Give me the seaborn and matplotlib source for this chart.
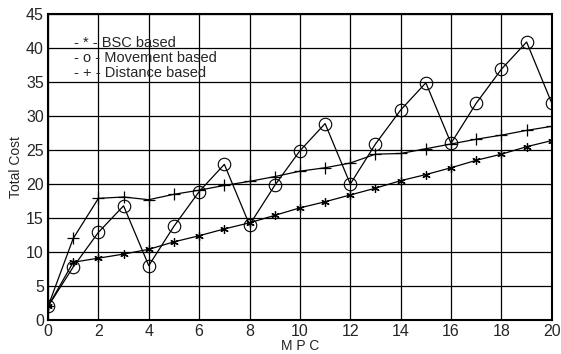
import matplotlib
matplotlib.use("Agg")
import matplotlib.pyplot as plt
import seaborn as sns
import pandas as pd

mpc = list(range(21))
bsc = [2, 8.5, 9.1, 9.7, 10.4, 11.5, 12.4, 13.4, 14.3, 15.4, 16.5, 17.4, 18.4, 19.4, 20.5, 21.4, 22.4, 23.5, 24.4, 25.5, 26.4]
movement = [2, 7.8, 12.9, 16.8, 8, 13.8, 18.9, 22.9, 14, 19.8, 24.9, 28.9, 20, 25.9, 30.9, 34.9, 26, 31.9, 36.9, 40.9, 31.9]
distance = [2, 12, 17.9, 18.1, 17.7, 18.5, 19.1, 19.8, 20.4, 21.1, 21.9, 22.4, 23.1, 24.4, 24.5, 25.2, 25.9, 26.6, 27.2, 27.9, 28.5]
legend_labels = ["- * - BSC based", "- o - Movement based", "- + - Distance based"]
xticks = list(range(0, 21, 2))
yticks = list(range(0, 46, 5))

sns.set_style("white")
plt.rcParams['font.family'] = ['Liberation Sans', 'DejaVu Sans']

fig = plt.figure(figsize=(5.61, 3.54), dpi=100)
ax = fig.add_axes([0.0856, 0.096, 0.898, 0.864])

df = pd.DataFrame({"MPC": mpc, "bsc": bsc, "mov": movement, "dist": distance})
sns.lineplot(data=df, x="MPC", y="bsc", ax=ax, color="black", lw=0.9, marker=(6, 2, 0), markersize=6, markeredgewidth=0.9, markeredgecolor="black")
sns.lineplot(data=df, x="MPC", y="mov", ax=ax, color="black", lw=0.9, marker="o", markersize=9, markerfacecolor="none", markeredgecolor="black", markeredgewidth=0.8)
sns.lineplot(data=df, x="MPC", y="dist", ax=ax, color="black", lw=0.9, marker="+", markersize=8, markeredgewidth=0.9, markeredgecolor="black")

ax.set_xlim(0, 20)
ax.set_ylim(0, 45)
ax.set_xticks(xticks)
ax.set_yticks(yticks)
ax.grid(True, color="black", lw=0.9)
ax.set_axisbelow(True)
for s in ax.spines.values():
    s.set_color("black")
    s.set_linewidth(1.5)
ax.tick_params(labelsize=11.5, length=0, pad=3)
ax.set_xlabel("M P C", fontsize=10, labelpad=0)
ax.set_ylabel("Total Cost", fontsize=10, labelpad=2)

ys = [0.905, 0.857, 0.809]
for lab, yy in zip(legend_labels, ys):
    ax.text(0.052, yy, lab, transform=ax.transAxes, fontsize=10.5, va="center", ha="left")

fig.savefig("out.png", dpi=100)
